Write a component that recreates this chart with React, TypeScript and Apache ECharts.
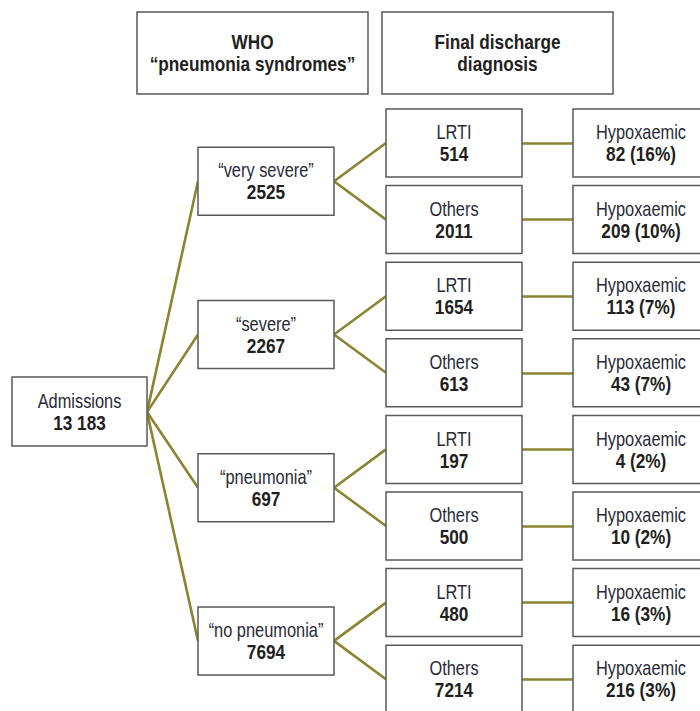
import React, { useEffect, useRef } from "react";
import * as echarts from "echarts";

// ---- data ----
const headerTitles = [["WHO", "“pneumonia syndromes”"], ["Final discharge", "diagnosis"]];
const rootLabel = "Admissions";
const rootCount = 13183;
const syndromes = ["“very severe”", "“severe”", "“pneumonia”", "“no pneumonia”"];
const syndromeCounts = [2525, 2267, 697, 7694];
const diagnosisLabels = ["LRTI", "Others"];
const diagnosisCounts = [
  [514, 2011],
  [1654, 613],
  [197, 500],
  [480, 7214],
];
const hypoxLabel = "Hypoxaemic";
const hypoxCounts = [
  [82, 209],
  [113, 43],
  [4, 10],
  [16, 216],
];
const hypoxPct = [
  [16, 10],
  [7, 7],
  [2, 2],
  [3, 3],
];

// ---- layout (in pixel-like axis units) ----
const W = 700;
const H = 711;
const colLeft = [12, 198, 386, 573];
const boxW = [135, 136, 136, 136];
const boxH = 68;
const leafTop0 = 109;
const leafStep = 76.6;
const headerBoxes = [
  { x: 137, y: 12, w: 231, h: 82 },
  { x: 382, y: 12, w: 231, h: 82 },
];

const FONT = "'Liberation Sans', Arial, sans-serif";
const NARROW = 0.82;

function fmt(n: number) {
  if (n >= 10000) return String(n).replace(/\B(?=(\d{3})+(?!\d))/g, " ");
  return String(n);
}

type Box = { x: number; y: number; w: number; h: number; lines: string[]; bold: boolean[] };

function buildLayout() {
  const boxes: Box[] = [];
  const links: number[][][] = [];
  const synCenters: number[] = [];
  syndromes.forEach((s, i) => {
    const leafCenters: number[] = [];
    diagnosisLabels.forEach((d, j) => {
      const idx = i * 2 + j;
      const top = leafTop0 + idx * leafStep;
      const cy = top + boxH / 2;
      leafCenters.push(cy);
      boxes.push({ x: colLeft[2], y: top, w: boxW[2], h: boxH, lines: [d, fmt(diagnosisCounts[i][j])], bold: [false, true] });
      boxes.push({
        x: colLeft[3], y: top, w: boxW[3], h: boxH,
        lines: [hypoxLabel, `${hypoxCounts[i][j]} (${hypoxPct[i][j]}%)`], bold: [false, true],
      });
      links.push([[colLeft[2] + boxW[2], cy], [colLeft[3], cy]]);
    });
    const cy = (leafCenters[0] + leafCenters[1]) / 2;
    synCenters.push(cy);
    boxes.push({ x: colLeft[1], y: cy - boxH / 2, w: boxW[1], h: boxH, lines: [s, fmt(syndromeCounts[i])], bold: [false, true] });
    leafCenters.forEach((lc) => links.push([[colLeft[1] + boxW[1], cy], [colLeft[2], lc]]));
  });
  const rootCy = synCenters.reduce((a, b) => a + b, 0) / synCenters.length + 1;
  boxes.push({ x: colLeft[0], y: rootCy - boxH / 2 - 1, w: boxW[0], h: boxH + 1, lines: [rootLabel, fmt(rootCount)], bold: [false, true] });
  synCenters.forEach((sc) => links.push([[colLeft[0] + boxW[0], rootCy], [colLeft[1], sc]]));
  headerBoxes.forEach((hb, k) => {
    boxes.push({ ...hb, lines: headerTitles[k], bold: [true, true] });
  });
  return { boxes, links };
}

export default function App() {
  const ref = useRef<HTMLDivElement>(null);
  useEffect(() => {
    document.body.style.margin = "0";
    if (!ref.current) return;
    const chart = echarts.init(ref.current, undefined, { renderer: "svg" });
    const { boxes, links } = buildLayout();
    chart.setOption({
      animation: false,
      backgroundColor: "#ffffff",
      grid: { left: 0, right: 0, top: 0, bottom: 0 },
      xAxis: { type: "value", min: 0, max: W, show: false },
      yAxis: { type: "value", min: 0, max: H, inverse: true, show: false },
      series: [
        {
          type: "lines",
          coordinateSystem: "cartesian2d",
          z: 1,
          silent: true,
          lineStyle: { color: "#8a8433", width: 2.6, opacity: 1, curveness: 0 },
          data: links.map((c) => ({ coords: c })),
        },
        {
          type: "custom",
          coordinateSystem: "cartesian2d",
          z: 2,
          clip: false,
          silent: true,
          data: boxes.map((b) => [b.x, b.y, b.w, b.h]),
          renderItem: (params: any, api: any) => {
            const b = boxes[params.dataIndex];
            const p0 = api.coord([api.value(0), api.value(1)]);
            const p1 = api.coord([api.value(0) + api.value(2), api.value(1) + api.value(3)]);
            const text = b.lines.map((l, k) => `{${b.bold[k] ? "b" : "a"}|${l}}`).join("\n");
            return {
              type: "group",
              children: [
                {
                  type: "rect",
                  shape: { x: p0[0], y: p0[1], width: p1[0] - p0[0], height: p1[1] - p0[1] },
                  style: { fill: "#ffffff", stroke: "#5a5a5a", lineWidth: 1.5 },
                },
                {
                  type: "text",
                  x: (p0[0] + p1[0]) / 2,
                  y: (p0[1] + p1[1]) / 2,
                  scaleX: NARROW,
                  style: {
                    x: 0,
                    y: 0,
                    text,
                    align: "center",
                    verticalAlign: "middle",
                    rich: {
                      a: { fontFamily: FONT, fontSize: 20, fontWeight: "normal", fill: "#2a2a35", lineHeight: 22 },
                      b: { fontFamily: FONT, fontSize: 21, fontWeight: "bold", fill: "#231f20", lineHeight: 22 },
                    },
                  },
                },
              ],
            };
          },
        },
      ],
    });
    return () => chart.dispose();
  }, []);
  return <div ref={ref} style={{ width: W, height: H }} />;
}
